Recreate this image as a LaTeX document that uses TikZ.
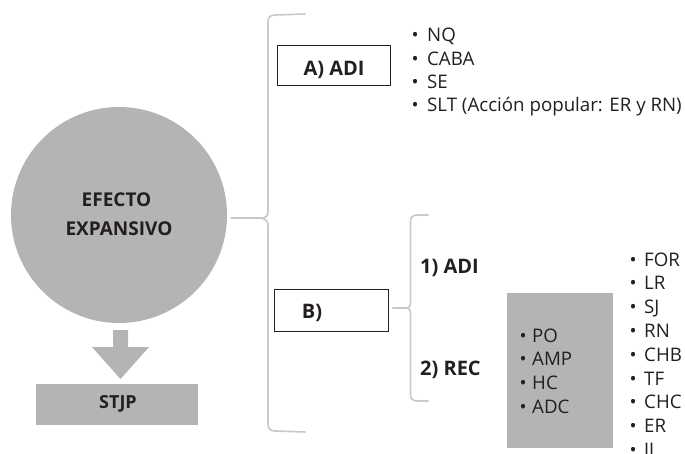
\documentclass[tikz,border=0pt]{standalone}
\usepackage{fontspec}
\setmainfont{Open Sans}
\definecolor{fillgray}{RGB}{180,180,182}
\definecolor{bracegray}{RGB}{200,200,200}
\definecolor{ink}{RGB}{35,31,32}
% bullet centred #1 to the left of the text start
\newcommand{\bul}[1]{\makebox[0pt][r]{\makebox[#1][l]{\makebox[0pt][c]{•}}}}
\begin{document}
\begin{tikzpicture}[x=1pt,y=-1pt,
  every node/.style={text=ink, font=\fontsize{18.7}{20}\selectfont},
  lbl/.style={font=\fontsize{20}{22}\selectfont\bfseries, inner sep=0pt},
  box/.style={draw=ink, line width=0.8pt, fill=white, inner sep=0pt},
  item/.style={anchor=base west, inner sep=0pt},
  brace/.style={draw=bracegray, line width=1.6pt, line cap=round, line join=round}]
\useasboundingbox (0,0) rectangle (685,454);
\clip (0,0) rectangle (685,454);
% main circle
\node[circle, fill=fillgray, minimum size=216pt, inner sep=0pt] (c) at (119,215) {};
\node[lbl, font=\fontsize{19}{22}\selectfont\bfseries, anchor=base] (c1) at (116.5,207) {EFECTO};
\node[lbl, font=\fontsize{19}{22}\selectfont\bfseries, anchor=base] (c2) at (119,236) {EXPANSIVO};
% STJP box
\node[fill=fillgray, minimum width=162pt, minimum height=41pt, inner sep=0pt] (s) at (117,404.5) {};
\node[lbl, font=\fontsize{18}{20}\selectfont\bfseries, anchor=base] (s1) at (118,408) {STJP};
% down arrow
\fill[fillgray] (113,330) -- (128,330) -- (128,347) -- (149,347) -- (120.5,379) -- (92,347) -- (113,347) -- cycle;
% big brace
\coordinate (bt) at (231,218);
\draw[brace] (bt) -- (261,218) .. controls (266,218) and (268,216) .. (268,211) -- (268,22) .. controls (268,17) and (270,15) .. (276,15) -- (305,14);
\draw[brace] (261,218) .. controls (266,219) and (268,221) .. (268,226) -- (268,424) .. controls (268,429) and (270,431) .. (276,431) -- (305,432);
% A box
\node[box, minimum width=113pt, minimum height=40pt] (a) at (333.5,65) {};
\node[lbl, anchor=base] (a1) at (334,76) {A) ADI};
\foreach \t [count=\i] in {NQ,CABA,SE,{SLT (Acción popular: ER y RN)}}
  \node[item] (al\i) at (427,41.7+23.33*\i-23.33) {\bul{12pt}\t};
% B box
\node[box, minimum width=114.7pt, minimum height=42pt] (b) at (331.3,310) {};
\node[lbl, anchor=base] (b0) at (312,318) {B)};
% small brace
\draw[brace] ([xshift=3.5pt]b.east |- 0,308) -- (405,308) .. controls (408.5,308) and (410.5,307) .. (410.5,303) -- (410.5,222) .. controls (410.5,217) and (412.5,215) .. (418,215) -- (428,215);
\draw[brace] (405,308) .. controls (408.5,308) and (410.5,309) .. (410.5,313) -- (410.5,394) .. controls (410.5,399) and (412.5,401) .. (418,401) -- (428,401);
\node[item, lbl] (b1) at (420,273) {1) ADI};
\node[item, lbl] (b2) at (420,375) {2) REC};
% gray list box
\node[fill=fillgray, minimum width=106pt, minimum height=155pt, inner sep=0pt] (g) at (560,370.5) {};
\foreach \t [count=\i] in {PO,AMP,HC,ADC}
  \node[item] (gl\i) at (532,342+23.67*\i-23.67) {\bul{9pt}\t};
\foreach \t [count=\i] in {FOR,LR,SJ,RN,CHB,TF,CHC,ER,JJ}
  \node[item] (rl\i) at (644,266+23.8*\i-23.8) {\bul{11pt}\t};
\end{tikzpicture}
\end{document}
